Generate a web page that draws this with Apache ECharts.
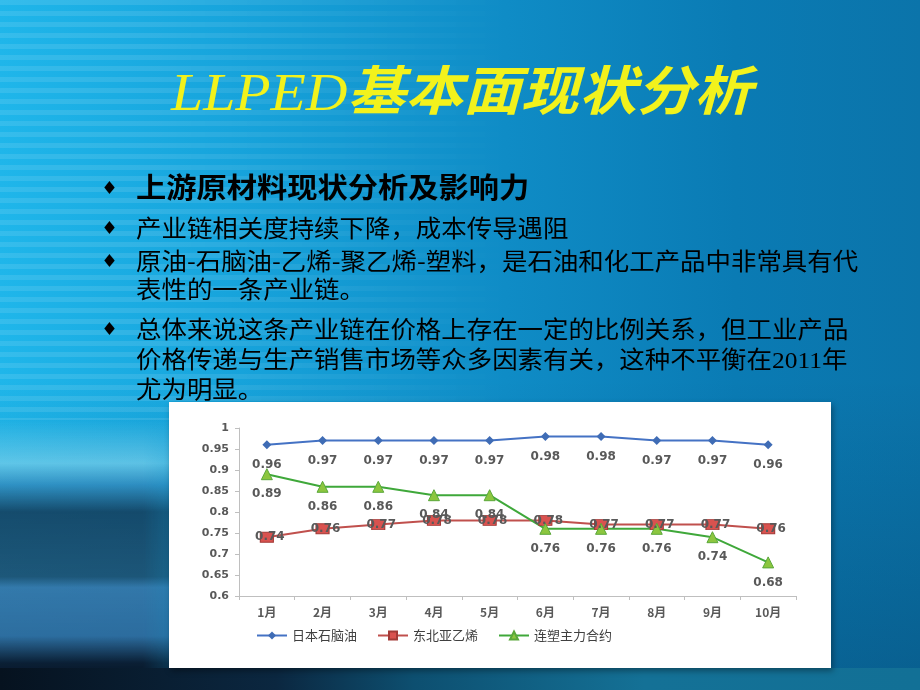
<!DOCTYPE html>
<html>
<head>
<meta charset="utf-8">
<script src="https://cdn.jsdelivr.net/npm/echarts@6/dist/echarts.min.js"></script>
<style>
html,body{margin:0;padding:0;width:920px;height:690px;overflow:hidden;}
#slide{position:absolute;left:0;top:0;width:920px;height:690px;overflow:hidden;
  background:linear-gradient(180deg,rgba(0,0,0,0) 0%,rgba(0,0,0,0) 55%,rgba(0,30,60,0.25) 100%),
  linear-gradient(90deg,#1fb6ea 0%,#17a4dc 25%,#0f8cc6 55%,#0a7bb4 80%,#0b74aa 100%);}
#stripes{position:absolute;left:0;top:0;width:520px;height:420px;
  background:repeating-linear-gradient(180deg,rgba(255,255,255,0.10) 0px,rgba(255,255,255,0.10) 5px,rgba(0,0,0,0.0) 5px,rgba(0,0,0,0) 11px);
  -webkit-mask-image:linear-gradient(90deg,#000 0%,#000 30%,transparent 100%);}
#train{position:absolute;left:0;top:420px;width:260px;height:270px;
  background:linear-gradient(180deg,rgba(90,190,220,0.0) 0%,rgba(150,220,240,0.55) 16%,rgba(60,130,180,0.6) 24%,rgba(20,60,90,0.85) 34%,rgba(30,70,100,0.8) 58%,rgba(60,110,160,0.75) 62%,rgba(50,100,150,0.8) 80%,rgba(10,25,45,0.95) 90%,rgba(5,15,30,1) 100%);
  -webkit-mask-image:linear-gradient(90deg,#000 0%,#000 55%,transparent 100%);}
#bottom{position:absolute;left:0;top:668px;width:920px;height:22px;
  background:linear-gradient(90deg,#06121f 0%,#0b2740 30%,#0d4f70 45%,#147196 70%,#127096 100%);}
#title{position:absolute;left:171px;top:52px;white-space:nowrap;color:#f2f21c;font-size:53px;line-height:70px;transform-origin:0 0;transform:scaleX(1.09);}
#title .en{font-family:"Liberation Serif",serif;font-style:italic;}
#title .zh{font-family:"Noto Sans CJK SC",sans-serif;font-weight:bold;font-style:italic;}
.b{position:absolute;left:103px;font-size:17px;color:#000;font-family:"DejaVu Sans",sans-serif;transform:scaleX(0.8);}
.t{position:absolute;left:136px;white-space:nowrap;color:#000;font-family:"Noto Sans CJK SC",sans-serif;font-size:24px;line-height:28px;transform-origin:0 50%;transform:scaleX(1.06);}
.t .s{font-family:"Liberation Serif",serif;}
#box{position:absolute;left:169px;top:402px;width:662px;height:266px;background:#fff;box-shadow:2px 3px 6px rgba(0,0,0,0.35);}
#chart{position:absolute;left:0;top:0;width:662px;height:266px;}
</style>
</head>
<body>
<div id="slide">
  <div id="stripes"></div>
  <div id="train"></div>
  <div id="bottom"></div>
  <div id="title"><span class="en">LLPED</span><span class="zh">基本面现状分析</span></div>

  <div class="b" style="top:176px">◆</div>
  <div class="t" style="top:172px;font-weight:bold;font-size:28px;transform:scaleX(1.08);">上游原材料现状分析及影响力</div>
  <div class="b" style="top:216px">◆</div>
  <div class="t" style="top:213px;">产业链相关度持续下降，成本传导遇阻</div>
  <div class="b" style="top:249px">◆</div>
  <div class="t" style="top:246px;">原油-石脑油-乙烯-聚乙烯-塑料，是石油和化工产品中非常具有代</div>
  <div class="t" style="top:274px;">表性的一条产业链。</div>
  <div class="b" style="top:317px">◆</div>
  <div class="t" style="top:314px;">总体来说这条产业链在价格上存在一定的比例关系，但工业产品</div>
  <div class="t" style="top:344px;">价格传递与生产销售市场等众多因素有关，这种不平衡在<span class="s">2011</span>年</div>
  <div class="t" style="top:374px;">尤为明显。</div>

  <div id="box"><div id="chart"></div></div>
</div>
<script>
var categories = ['1月','2月','3月','4月','5月','6月','7月','8月','9月','10月'];
var naphtha = [0.96,0.97,0.97,0.97,0.97,0.98,0.98,0.97,0.97,0.96];
var ethylene = [0.74,0.76,0.77,0.78,0.78,0.78,0.77,0.77,0.77,0.76];
var dalianPlastic = [0.89,0.86,0.86,0.84,0.84,0.76,0.76,0.76,0.74,0.68];
var seriesNames = ['日本石脑油','东北亚乙烯','连塑主力合约'];

var chart = echarts.init(document.getElementById('chart'), null, {renderer:'canvas'});
var labelFont = {color:'#595959',fontSize:12,fontWeight:'bold',fontFamily:'DejaVu Sans'};
chart.setOption({
  animation:false,
  backgroundColor:'#ffffff',
  grid:{left:70,right:35,top:26,bottom:72},
  legend:{
    left:82, top:222, itemWidth:30, itemHeight:10, itemGap:20,
    textStyle:{color:'#404040',fontSize:13,fontFamily:'Noto Sans CJK SC'},
    data:seriesNames
  },
  xAxis:{
    type:'category', data:categories, boundaryGap:true,
    axisLine:{lineStyle:{color:'#bfbfbf',width:1}},
    axisTick:{show:true,lineStyle:{color:'#bfbfbf'},length:4},
    axisLabel:{margin:10,interval:0,fontFamily:'Noto Sans CJK SC',color:'#595959',fontSize:12,fontWeight:'bold'}
  },
  yAxis:{
    type:'value', min:0.6, max:1, interval:0.05,
    axisLine:{show:true,lineStyle:{color:'#bfbfbf',width:1}},
    axisTick:{show:true,lineStyle:{color:'#bfbfbf'},length:4},
    splitLine:{show:false},
    axisLabel:Object.assign({margin:10},labelFont,{fontSize:11})
  },
  series:[
    {name:seriesNames[0],type:'line',data:naphtha,
     symbol:'diamond',symbolSize:9,
     lineStyle:{color:'#4472c4',width:2},
     itemStyle:{color:'#3f6cb5'},
     label:Object.assign({show:true,position:'bottom',distance:10},labelFont)},
    {name:seriesNames[1],type:'line',data:ethylene,
     symbol:'rect',symbolSize:[13,10],
     lineStyle:{color:'#c0504d',width:2},
     itemStyle:{color:'#d9524f',borderColor:'#a33a37',borderWidth:1},
     label:Object.assign({show:true,position:'inside',offset:[3,0]},labelFont)},
    {name:seriesNames[2],type:'line',data:dalianPlastic,
     symbol:'triangle',symbolSize:11,
     lineStyle:{color:'#3fa83a',width:2},
     itemStyle:{color:'#8cc63f',borderColor:'#5aa83a',borderWidth:1},
     label:Object.assign({show:true,position:'bottom',distance:8},labelFont)}
  ]
});
</script>
</body>
</html>
